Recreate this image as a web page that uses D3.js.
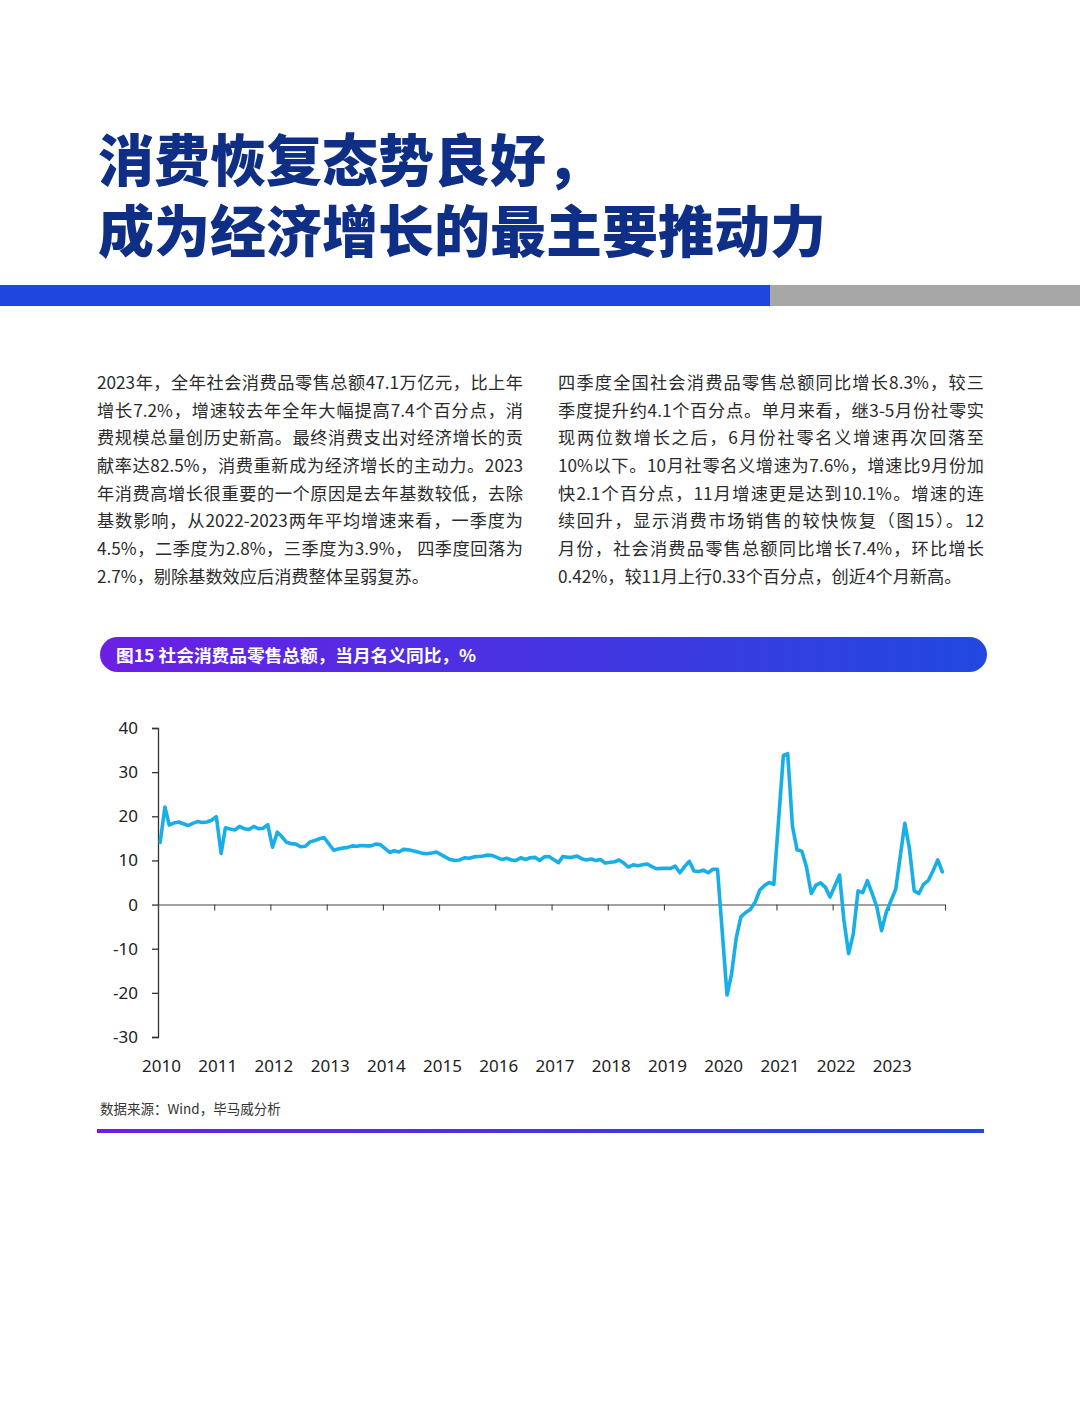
<!DOCTYPE html>
<html>
<head>
<meta charset="utf-8">
<script src="https://cdn.jsdelivr.net/npm/d3@7"></script>
<style>
  body { margin: 0; background: #fff; }
  #page { position: relative; width: 1080px; height: 1423px; overflow: hidden; background: #fff; }
  .title { position: absolute; left: 98px; top: 121px; font-family: "Noto Sans CJK SC", sans-serif; font-weight: 900;
           font-size: 56px; color: #0f2f87; white-space: pre; line-height: 71px; }
  .col { position: absolute; width: 426px; font-family: "Noto Sans CJK SC", sans-serif; font-size: 17.2px; color: #2b2b2b; }
  .col div { height: 27.7px; line-height: 27.7px; text-align: justify; text-align-last: justify; white-space: nowrap; }
  .col div.last { text-align-last: left; }
  svg { position: absolute; left: 0; top: 0; }
</style>
</head>
<body>
<div id="page"></div>
<script>
const titleLines = ["消费恢复态势良好，", "成为经济增长的最主要推动力"];

const leftLines = [
  "2023年，全年社会消费品零售总额47.1万亿元，比上年",
  "增长7.2%，增速较去年全年大幅提高7.4个百分点，消",
  "费规模总量创历史新高。最终消费支出对经济增长的贡",
  "献率达82.5%，消费重新成为经济增长的主动力。2023",
  "年消费高增长很重要的一个原因是去年基数较低，去除",
  "基数影响，从2022-2023两年平均增速来看，一季度为",
  "4.5%，二季度为2.8%，三季度为3.9%， 四季度回落为",
  "2.7%，剔除基数效应后消费整体呈弱复苏。"
];
const rightLines = [
  "四季度全国社会消费品零售总额同比增长8.3%，较三",
  "季度提升约4.1个百分点。单月来看，继3-5月份社零实",
  "现两位数增长之后，6月份社零名义增速再次回落至",
  "10%以下。10月社零名义增速为7.6%，增速比9月份加",
  "快2.1个百分点，11月增速更是达到10.1%。增速的连",
  "续回升，显示消费市场销售的较快恢复（图15）。12",
  "月份，社会消费品零售总额同比增长7.4%，环比增长",
  "0.42%，较11月上行0.33个百分点，创近4个月新高。"
];

const chartTitle = "图15 社会消费品零售总额，当月名义同比，%";
const sourceText = "数据来源：Wind，毕马威分析";

// 当月名义同比, %, Jan..Dec of each year (null = 1-2月合并发布)
const years = [2010, 2011, 2012, 2013, 2014, 2015, 2016, 2017, 2018, 2019, 2020, 2021, 2022, 2023];
const y2010 = [14.1, 22.1, 18.0, 18.5, 18.7, 18.3, 17.9, 18.4, 18.8, 18.6, 18.7, 19.1];
const y2011 = [19.9, 11.6, 17.4, 17.1, 16.9, 17.7, 17.2, 17.0, 17.7, 17.2, 17.3, 18.1];
const y2012 = [13.0, 16.4, 15.4, 14.1, 13.8, 13.7, 13.1, 13.2, 14.2, 14.5, 14.9, 15.2];
const y2013 = [null, 12.3, 12.6, 12.8, 12.9, 13.3, 13.2, 13.4, 13.3, 13.3, 13.7, 13.6];
const y2014 = [null, 11.8, 12.2, 11.9, 12.5, 12.4, 12.2, 11.9, 11.6, 11.5, 11.7, 11.9];
const y2015 = [null, 10.7, 10.2, 10.0, 10.1, 10.6, 10.5, 10.8, 10.9, 11.0, 11.2, 11.1];
const y2016 = [null, 10.2, 10.5, 10.1, 10.0, 10.6, 10.2, 10.6, 10.7, 10.0, 10.8, 10.9];
const y2017 = [null, 9.5, 10.9, 10.7, 10.7, 11.0, 10.4, 10.1, 10.3, 10.0, 10.2, 9.4];
const y2018 = [null, 9.7, 10.1, 9.4, 8.5, 9.0, 8.8, 9.0, 9.2, 8.6, 8.1, 8.2];
const y2019 = [null, 8.2, 8.7, 7.2, 8.6, 9.8, 7.6, 7.5, 7.8, 7.2, 8.0, 8.0];
const y2020 = [null, -20.5, -15.8, -7.5, -2.8, -1.8, -1.1, 0.5, 3.3, 4.3, 5.0, 4.6];
const y2021 = [null, 33.8, 34.2, 17.7, 12.4, 12.1, 8.5, 2.5, 4.4, 4.9, 3.9, 1.7];
const y2022 = [null, 6.7, -3.5, -11.1, -6.7, 3.1, 2.7, 5.4, 2.5, -0.5, -5.9, -1.8];
const y2023 = [null, 3.5, 10.6, 18.4, 12.7, 3.1, 2.5, 4.6, 5.5, 7.6, 10.1, 7.4];
const yTicks = [40, 30, 20, 10, 0, -10, -20, -30];

const yearValues = [y2010, y2011, y2012, y2013, y2014, y2015, y2016, y2017, y2018, y2019, y2020, y2021, y2022, y2023];
const series = [];
years.forEach((yr, k) => {
  yearValues[k].forEach((v, m) => {
    if (v !== null) series.push({ date: new Date(yr, m, 15), value: v });
  });
});

const page = d3.select("#page");

// title, one block of two lines
page.append("div").attr("class", "title").text(titleLines.join("\n"));

// text columns
[[leftLines, 97], [rightLines, 558]].forEach(([lines, left]) => {
  const col = page.append("div").attr("class", "col")
    .style("left", left + "px").style("top", "368px");
  col.selectAll("div").data(lines).enter().append("div")
    .attr("class", (d, i) => i === lines.length - 1 ? "last" : null)
    .text(d => d);
});

const svg = page.append("svg").attr("width", 1080).attr("height", 1423);
const defs = svg.append("defs");
const grad = defs.append("linearGradient").attr("id", "pill").attr("x1", "0%").attr("x2", "100%");
grad.append("stop").attr("offset", "0%").attr("stop-color", "#6c1fe3");
grad.append("stop").attr("offset", "100%").attr("stop-color", "#2148e0");

// top colour band
svg.append("rect").attr("x", 0).attr("y", 285).attr("width", 770).attr("height", 21).attr("fill", "#2046e0");
svg.append("rect").attr("x", 770).attr("y", 285).attr("width", 310).attr("height", 21).attr("fill", "#a7a7a7");

// chart header pill
svg.append("rect").attr("x", 100).attr("y", 637).attr("width", 887).attr("height", 35)
  .attr("rx", 17.5).attr("fill", "url(#pill)");
svg.append("text").attr("x", 116).attr("y", 662)
  .style("font-family", "'Noto Sans CJK SC', sans-serif")
  .style("font-weight", "bold").style("font-size", "17px").attr("fill", "#fff")
  .attr("textLength", 360).attr("lengthAdjust", "spacingAndGlyphs")
  .text(chartTitle);

// chart
const x = d3.scaleTime()
  .domain([new Date(2010, 0, 1), new Date(2024, 0, 1)])
  .range([158, 945]);
const y = d3.scaleLinear().domain([-30, 40]).range([1037, 728]);

const axisFont = "'Noto Sans', 'DejaVu Sans', sans-serif";

const yAxis = svg.append("g").attr("transform", "translate(158,0)")
  .call(d3.axisLeft(y).tickValues(yTicks).tickSize(6).tickSizeOuter(6).tickPadding(14)
    .tickFormat(d => String(d)));
yAxis.selectAll("text").style("font-family", axisFont).style("font-size", "17px").attr("fill", "#222");
yAxis.selectAll("path, line").attr("stroke", "#333").attr("stroke-width", 1.3);

const yearTicks = years.concat([2024]).map(yr => new Date(yr, 0, 1));
const xAxis = svg.append("g").attr("transform", `translate(0,${y(0)})`)
  .call(d3.axisBottom(x).tickValues(yearTicks).tickSize(6).tickSizeOuter(0).tickFormat(""));
xAxis.selectAll("path, line").attr("stroke", "#444").attr("stroke-width", 1.1);

const xLabels = svg.append("g").attr("transform", "translate(3,1060)")
  .call(d3.axisBottom(x).tickValues(years.map(yr => new Date(yr, 0, 1))).tickSize(0).tickPadding(0)
    .tickFormat(d3.timeFormat("%Y")));
xLabels.select(".domain").remove();
xLabels.selectAll("text").style("font-family", axisFont).style("font-size", "17px").attr("fill", "#222");

const line = d3.line().x(d => x(d.date)).y(d => y(d.value)).curve(d3.curveLinear);
svg.append("path").datum(series)
  .attr("d", line)
  .attr("fill", "none")
  .attr("stroke", "#18aee8")
  .attr("stroke-width", 3.6)
  .attr("stroke-linejoin", "round")
  .attr("stroke-linecap", "round");

// source + bottom rule
svg.append("text").attr("x", 100).attr("y", 1114)
  .style("font-family", "'Noto Sans CJK SC', sans-serif").style("font-size", "13.5px")
  .attr("fill", "#333").text(sourceText);
svg.append("rect").attr("x", 97).attr("y", 1129).attr("width", 887).attr("height", 4).attr("fill", "url(#pill)");
</script>
</body>
</html>
